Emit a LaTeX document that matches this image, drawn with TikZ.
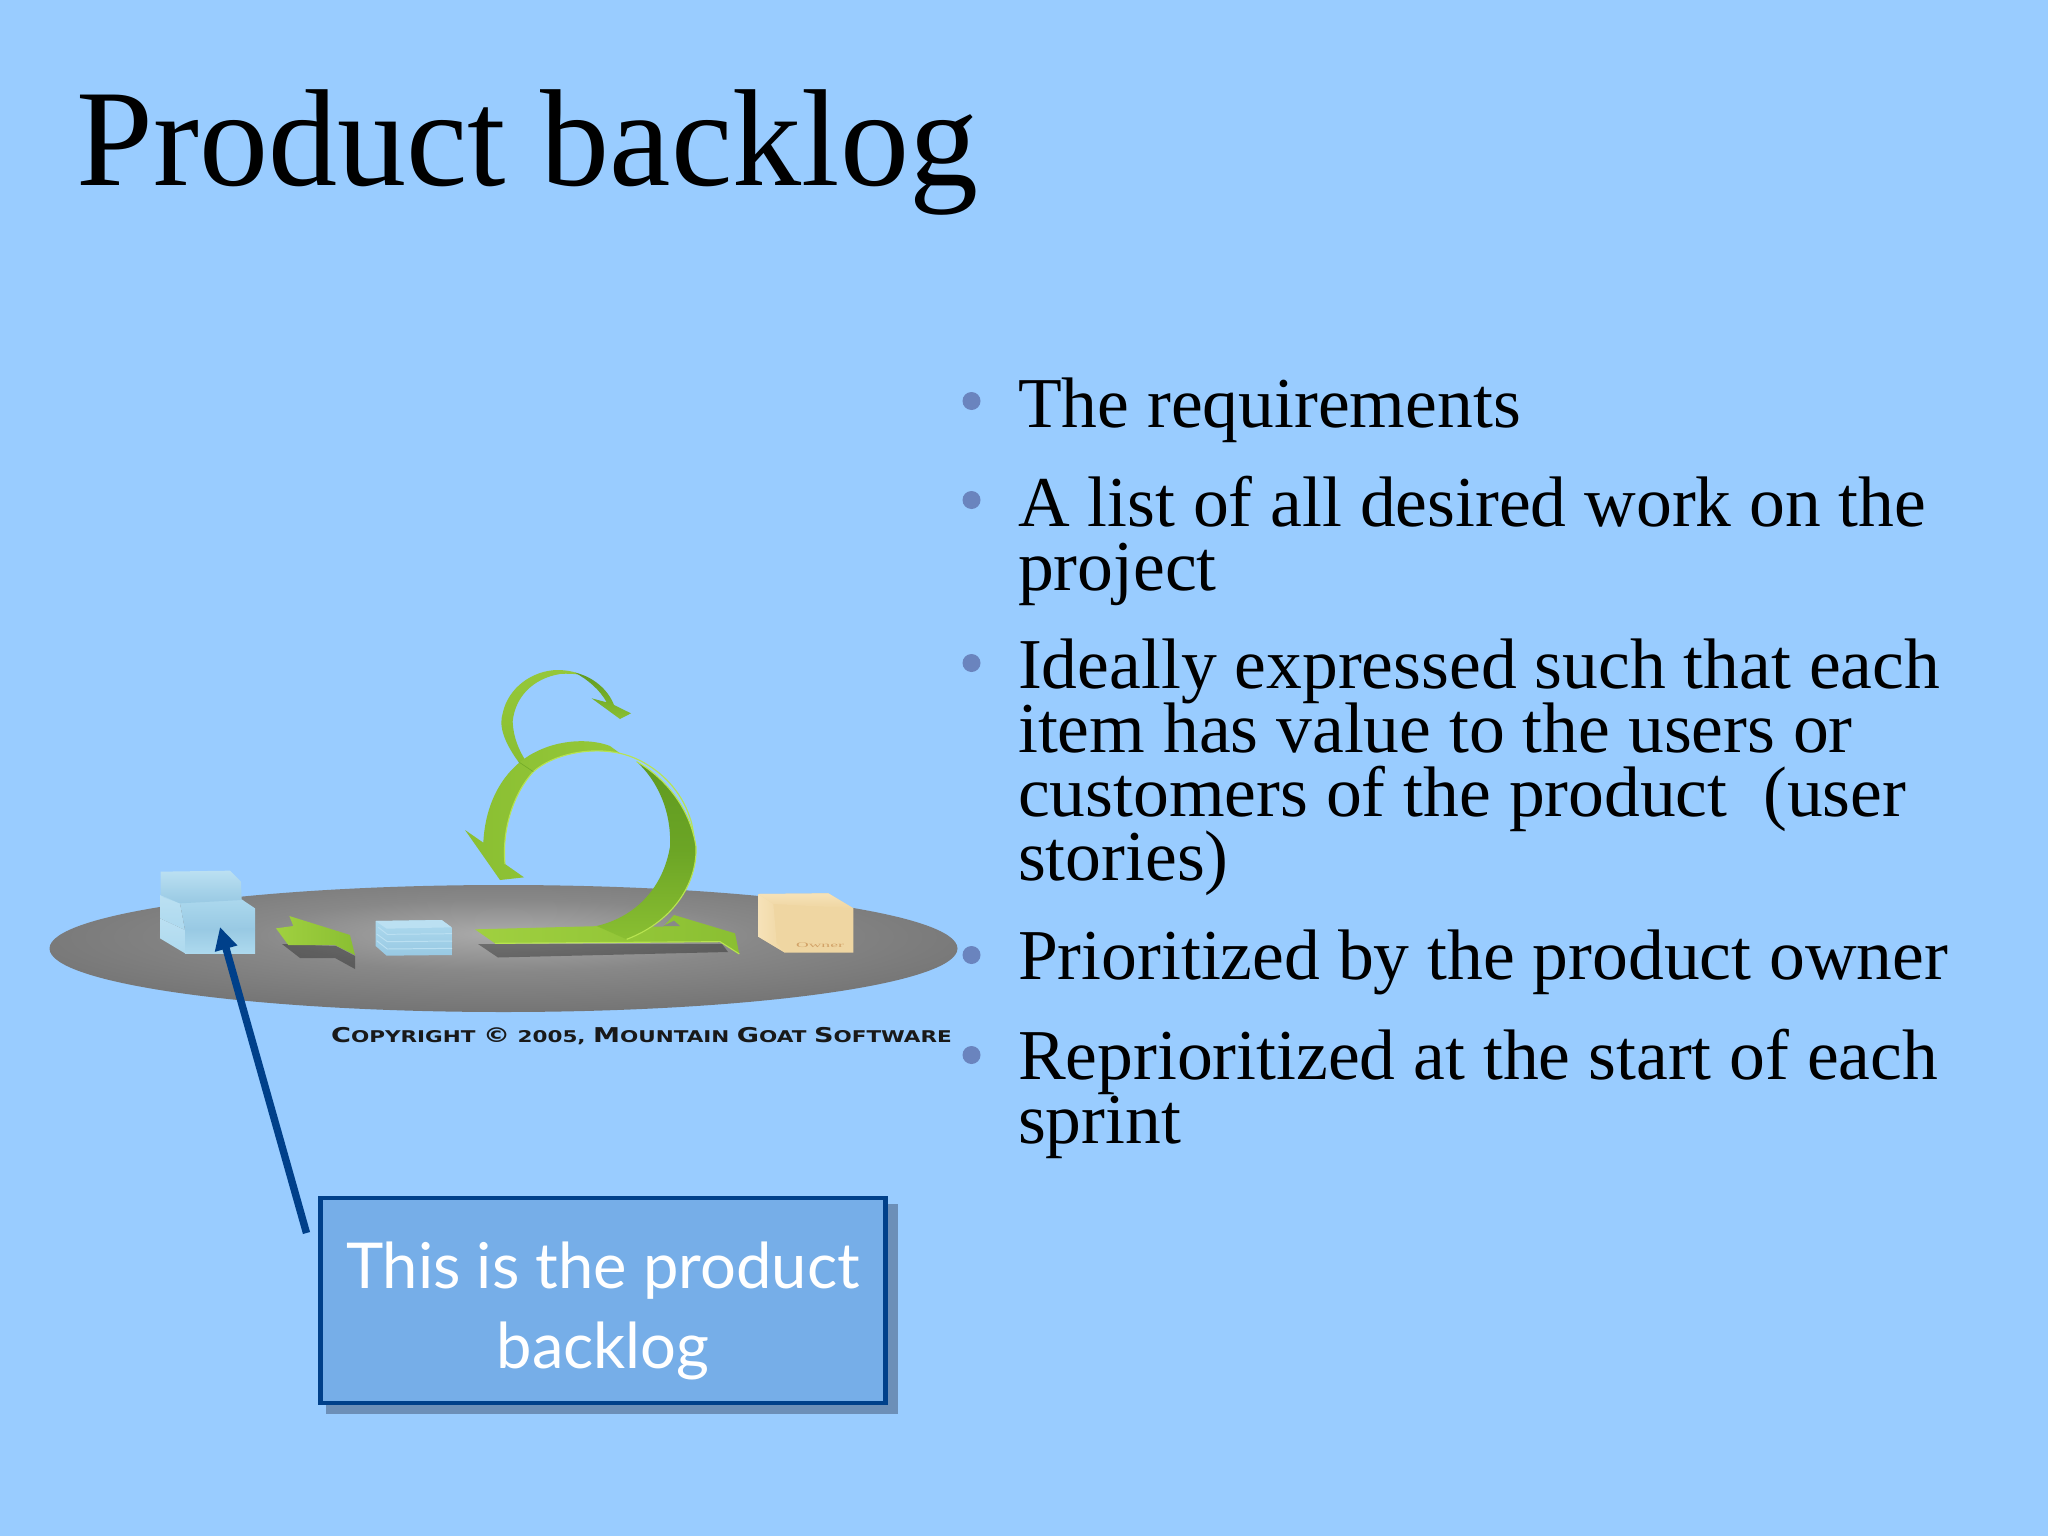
\documentclass[tikz,border=0pt]{standalone}
\usepackage{fontspec}
\setmainfont{Liberation Serif}
\newfontfamily\callfont{Lato}
\newfontfamily\copyfont{DejaVu Sans}
\usetikzlibrary{arrows.meta}
\AtBeginDocument{\normallineskiplimit=-200pt\relax\lineskiplimit=-200pt\relax}
\definecolor{bgblue}{HTML}{99CCFF}
\definecolor{navy}{HTML}{00408A}
\definecolor{boxfill}{HTML}{76AEE8}
\definecolor{shadowblue}{HTML}{6C8FB8}
\definecolor{bulletc}{HTML}{6A84BE}
\definecolor{gA}{HTML}{8ABF32}
\definecolor{gB}{HTML}{A0D040}
\definecolor{gC}{HTML}{5F9A20}
\definecolor{gL}{HTML}{B8E450}
\definecolor{iceA}{HTML}{ADD9EE}
\definecolor{iceB}{HTML}{98C9E3}
\definecolor{iceC}{HTML}{BBE0F2}
\definecolor{tanA}{HTML}{EFD6A2}
\definecolor{tanB}{HTML}{E8CD98}
\definecolor{tanC}{HTML}{F6E2B8}
\definecolor{discA}{HTML}{ABABAB}
\definecolor{discB}{HTML}{888888}
\definecolor{discC}{HTML}{6C6C6C}
\pgfdeclareradialshading{discshade}{\pgfpoint{0bp}{6bp}}{color(0bp)=(discA);color(14bp)=(discB);color(36bp)=(discC);color(100bp)=(discC)}
\newcommand{\capC}[1]{{\fontsize{29}{29}\selectfont #1}}
\tikzset{
  bodytext/.style={anchor=base west,inner sep=0pt,align=left,font=\fontsize{101.8}{91}\selectfont},
  bulletdot/.style={fill=bulletc,draw=none},
  drop/.style={fill=black,fill opacity=.32,draw=none},
}
\begin{document}
\begin{tikzpicture}[x=0.05cm,y=-0.05cm]
\useasboundingbox (0,0) rectangle (2048,1536);
\fill[bgblue] (0,0) rectangle (2048,1536);
% title
\node[anchor=base west,inner sep=0pt,font=\fontsize{196.5}{197}\selectfont] (title) at (76.5,186) {Product backlog};
% disc
\shade[shading=discshade] (503.5,948.5) ellipse [x radius=454,y radius=63.5];
% shadows on the disc
\fill[drop] (478,944) -- (722,944) -- (728,952) -- (498,957.5) -- cycle;
\fill[drop] (282,944) -- (336,946) -- (355,956) -- (355,969) -- (335,958) -- (300,958) -- cycle;
% stacks and small arrow
\begin{scope}[shift={(130,840)},scale=1/3]
  \shade[top color=iceC,bottom color=iceA] (90,235) -- (165,270) -- (165,340) -- (90,295) -- cycle;
  \shade[top color=iceB,bottom color=iceA] (165,265) -- (375,265) -- (375,340) -- (165,340) -- cycle;
  \shade[top color=iceC,bottom color=iceA] (90,165) -- (150,190) -- (165,270) -- (90,235) -- cycle;
  \shade[top color=iceA,bottom color=iceB] (95,170) -- (335,178) -- (375,205) -- (375,265) -- (165,270) -- (150,190) -- cycle;
  \shade[top color=iceC,bottom color=iceB] (92,95) -- (300,92) -- (333,125) -- (335,180) -- (150,190) -- (92,165) -- cycle;
  % small stack
  \shade[top color=iceA,bottom color=iceB] (737,243) -- (935,240) -- (968,265) -- (968,345) -- (770,347) -- (737,318) -- cycle;
  \draw[iceC,line width=1.4pt] (745,262) -- (772,283) -- (966,281);
  \draw[iceC,line width=1.4pt] (740,282) -- (772,305) -- (966,303);
  \draw[iceC,line width=1.4pt] (740,302) -- (772,327) -- (966,325);
  \fill[iceC] (737,243) -- (935,240) -- (965,262) -- (770,266) -- cycle;
  % small arrow
  \shade[left color=gB,right color=gA] (438,265) -- (490,258) -- (478,228) -- (660,285) -- (675,345) -- (615,315) -- (475,315) -- cycle;
\end{scope}
% cube
\begin{scope}[shift={(740,880)},scale=1/3]
  \fill[tanA] (55,42) -- (265,40) -- (340,85) -- (340,218) -- (135,218) -- (55,170) -- cycle;
  \shade[top color=tanC,bottom color=tanA] (55,42) -- (265,40) -- (340,85) -- (100,72) -- cycle;
  \shade[left color=tanC,right color=tanA] (55,42) -- (100,72) -- (110,190) -- (135,218) -- (55,170) -- cycle;
  \node[inner sep=0pt,font=\fontsize{10}{10}\selectfont,text=brown!60!tanA,transform shape,xscale=7.5,yscale=3] (own) at (240,197) {Owner};
\end{scope}
% big loop
\begin{scope}[shift={(450,650)},scale=1/3]
  % small loop ribbon
  \shade[top color=gB!50!gA,bottom color=gA] (205,335) .. controls (165,280) and (145,230) .. (158,190) .. controls (175,110) and (250,62) .. (320,60) .. controls (350,60) and (375,65) .. (395,75) .. controls (380,72) and (350,70) .. (330,72) .. controls (250,85) and (195,140) .. (188,215) .. controls (190,260) and (205,300) .. (232,340) -- cycle;
  \shade[top color=gC,bottom color=gA] (375,68) .. controls (430,80) and (475,120) .. (492,165) -- (543,190) -- (510,207) -- (425,145) -- (470,157) .. controls (450,120) and (415,90) .. (375,68) -- cycle;
  % base with head
  \shade[left color=gB,right color=gA] (75,838) -- (460,828) -- (640,830) -- (672,795) -- (855,850) -- (868,912) -- (810,875) -- (135,880) -- cycle;
  \fill[discB] (640,828) -- (672,812) -- (690,828) -- cycle;
  % back arc + left descending arm
  \shade[left color=gA,right color=gB!50!gA] (480,288) .. controls (430,268) and (330,262) .. (240,315) .. controls (150,370) and (105,470) .. (100,578) -- (45,540) -- (150,690) -- (222,682) -- (165,642) .. controls (155,540) and (190,430) .. (250,365) .. controls (310,312) and (420,290) .. (510,310) -- cycle;
  \draw[gL,line width=1.6pt] (165,642) .. controls (155,540) and (190,430) .. (250,365) .. controls (310,312) and (420,290) .. (510,310) .. controls (580,325) and (690,390) .. (725,520) .. controls (745,610) and (730,690) .. (690,745);
  \draw[gC!60!gA,line width=.8pt] (205,335) -- (250,365);
  % front crescent
  \shade[top color=gC,bottom color=gA,middle color=gC!70!gA] (560,335) .. controls (640,380) and (720,470) .. (738,590) .. controls (742,690) and (680,810) .. (530,868) -- (440,828) .. controls (560,800) and (640,710) .. (660,590) .. controls (665,480) and (620,390) .. (560,335) -- cycle;
  \draw[gL,line width=1.6pt] (560,335) .. controls (640,380) and (720,470) .. (738,590) .. controls (742,690) and (680,810) .. (530,868);
  \draw[gL,line width=1.6pt] (135,880) -- (810,875) -- (868,912);
\end{scope}
% copyright
\node[anchor=base west,inner sep=0pt,text=black!90,font=\copyfont\bfseries\fontsize{23}{23}\selectfont,transform shape,xscale=1.33] (copy) at (331,1042) {\capC{C}OPYRIGHT \capC{©} 2005, \capC{M}OUNTAIN \capC{G}OAT \capC{S}OFTWARE};
% bullets
\foreach \yy/\nm in {401/bA,500/bB,663/bC,955/bD,1055/bE}{\fill[bulletdot] (971.5,\yy) ellipse [x radius=9,y radius=9];}
\node[bodytext] (t1) at (1018,427) {The requirements};
\node[bodytext] (t2) at (1018,590) {A list of all desired work on the\\project};
\node[bodytext] (t3) at (1018,880) {Ideally expressed such that each\\item has value to the users or\\customers of the product~~(user\\stories)};
\node[bodytext] (t4) at (1018,979) {Prioritized by the product owner};
\node[bodytext] (t5) at (1018,1143) {Reprioritized at the start of each\\sprint};
% callout
\fill[shadowblue] (326,1204) rectangle (897.5,1414);
\node[draw=navy,fill=boxfill,line width=7pt,minimum width=565*0.05cm,minimum height=205*0.05cm,inner sep=0pt] (call) at (603,1300.5) {};
\node[inner sep=0pt,text=white,align=center,font=\callfont\fontsize{90}{114}\selectfont] (calltext) at (603,1311) {This is the product\\backlog};
% connector
\coordinate (cstart) at (306.5,1233);
\coordinate (ctip) at (220,927);
\draw[navy,line width=10.5pt,-{Triangle[length=32pt,width=31pt]}] (cstart) -- (ctip);
\end{tikzpicture}
\end{document}
